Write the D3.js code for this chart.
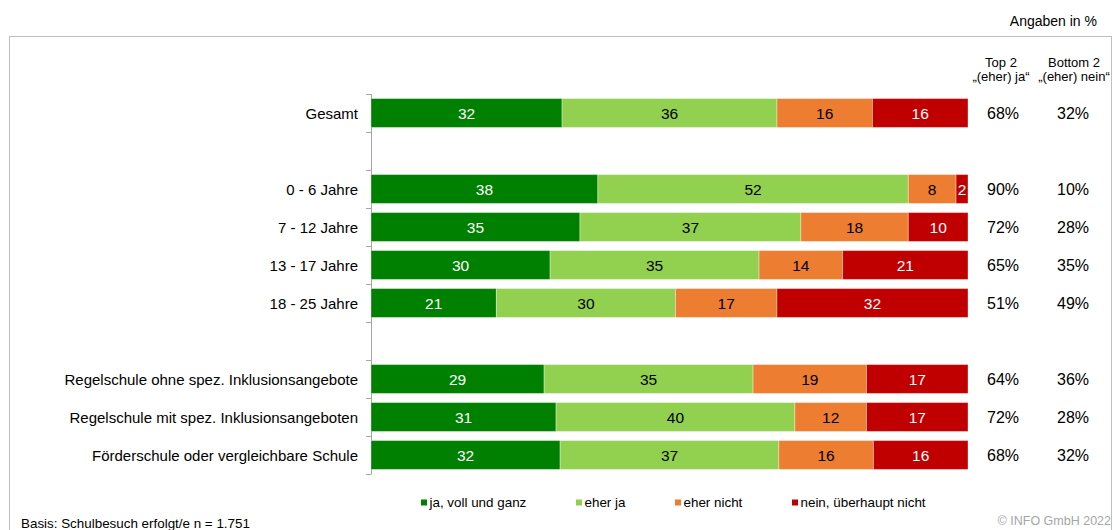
<!DOCTYPE html>
<html>
<head>
<meta charset="utf-8">
<title>Schulbesuch</title>
<script src="https://cdn.jsdelivr.net/npm/d3@7"></script>
<style>
    body{
        margin:0;
        font-family:"Liberation Sans", Arial, helvetica, sans-serif;
        background:#fff;
    }
</style>
</head>
<body>
<div id="chart"></div>
<script>
    // rows of the chart, "" = empty spacer row
    var categories = ["Gesamt", "", "0 - 6 Jahre", "7 - 12 Jahre", "13 - 17 Jahre", "18 - 25 Jahre", "",
        "Regelschule ohne spez. Inklusionsangebote", "Regelschule mit spez. Inklusionsangeboten",
        "Förderschule oder vergleichbare Schule"]
    var jaVoll   = [32, null, 38, 35, 30, 21, null, 29, 31, 32]
    var eherJa   = [36, null, 52, 37, 35, 30, null, 35, 40, 37]
    var eherNicht= [16, null,  8, 18, 14, 17, null, 19, 12, 16]
    var nein     = [16, null,  2, 10, 21, 32, null, 17, 17, 16]
    var top2     = ["68%", "", "90%", "72%", "65%", "51%", "", "64%", "72%", "68%"]
    var bottom2  = ["32%", "", "10%", "28%", "35%", "49%", "", "36%", "28%", "32%"]
    var seriesNames = ["ja, voll und ganz", "eher ja", "eher nicht", "nein, überhaupt nicht"]
    var seriesColors = ["#008000", "#92d050", "#ed7d31", "#c00000"]
    var labelColors = ["#fff", "#000", "#000", "#fff"]

    var w = 1113
    var h = 530

    var svg = d3.select("#chart").append("svg")
        .attr("width", w)
        .attr("height", h)

    // frame
    svg.append("rect")
        .attr("x", 9.5).attr("y", 36.5)
        .attr("width", 1102).attr("height", 520)
        .attr("fill", "none")
        .attr("stroke", "#bfbfbf")

    svg.append("text").text("Angaben in %")
        .attr("x", 1097).attr("y", 26)
        .attr("text-anchor", "end")
        .style("font-size", "14px")

    var keys = categories.map(function(d, i){ return "r" + i })
    var yScale = d3.scaleBand().domain(keys).range([94, 474])
        .paddingInner(0.24).paddingOuter(0.12)
    var xScale = d3.scaleLinear().domain([0, 1]).range([371, 968])

    var rows = categories.map(function(c, i){
        return {key: keys[i], label: c, vals: [jaVoll[i], eherJa[i], eherNicht[i], nein[i]],
            top: top2[i], bottom: bottom2[i]}
    })

    // category axis with ticks on row boundaries
    var axis = svg.append("g").attr("class", "axis")
    axis.append("line")
        .attr("x1", 371.5).attr("x2", 371.5)
        .attr("y1", 94).attr("y2", 474)
        .attr("stroke", "#a6a6a6")
    axis.selectAll(".tick")
        .data(d3.range(categories.length + 1))
        .enter().append("line")
        .attr("x1", 366).attr("x2", 371.5)
        .attr("y1", function(i){ return Math.round(94 + i * yScale.step()) + 0.5 })
        .attr("y2", function(i){ return Math.round(94 + i * yScale.step()) + 0.5 })
        .attr("stroke", "#a6a6a6")

    var filled = rows.filter(function(d){ return d.label !== "" })

    svg.selectAll(".cat")
        .data(filled).enter().append("text")
        .attr("class", "cat")
        .attr("x", 358)
        .attr("y", function(d){ return yScale(d.key) + yScale.bandwidth() / 2 + 5.5 })
        .attr("text-anchor", "end")
        .style("font-size", "15px")
        .text(function(d){ return d.label })

    filled.forEach(function(d){
        var total = d3.sum(d.vals)
        var acc = 0
        var g = svg.append("g")
        d.vals.forEach(function(v, j){
            var x0 = xScale(acc / total)
            acc += v
            var x1 = xScale(acc / total)
            g.append("rect")
                .attr("x", x0).attr("y", yScale(d.key))
                .attr("width", x1 - x0).attr("height", yScale.bandwidth())
                .attr("fill", seriesColors[j])
                .attr("stroke", "rgba(255,255,255,0.35)")
                .attr("stroke-width", 1)
            g.append("text")
                .attr("x", (x0 + x1) / 2)
                .attr("y", yScale(d.key) + yScale.bandwidth() / 2 + 5.5)
                .attr("text-anchor", "middle")
                .attr("fill", labelColors[j])
                .style("font-size", "15.5px")
                .text(v)
        })
    })

    // top2 / bottom2 columns
    svg.selectAll(".top2")
        .data(filled).enter().append("text")
        .attr("x", 1003)
        .attr("y", function(d){ return yScale(d.key) + yScale.bandwidth() / 2 + 6 })
        .attr("text-anchor", "middle")
        .style("font-size", "16px")
        .text(function(d){ return d.top })
    svg.selectAll(".bottom2")
        .data(filled).enter().append("text")
        .attr("x", 1073)
        .attr("y", function(d){ return yScale(d.key) + yScale.bandwidth() / 2 + 6 })
        .attr("text-anchor", "middle")
        .style("font-size", "16px")
        .text(function(d){ return d.bottom })

    var heads = [["Top 2", "„(eher) ja“", 1001], ["Bottom 2", "„(eher) nein“", 1074]]
    heads.forEach(function(hd){
        svg.append("text").text(hd[0]).attr("x", hd[2]).attr("y", 67)
            .attr("text-anchor", "middle").style("font-size", "13px")
        svg.append("text").text(hd[1]).attr("x", hd[2]).attr("y", 81)
            .attr("text-anchor", "middle").style("font-size", "13px")
    })

    // legend
    var legX = [421, 576, 675, 792]
    seriesNames.forEach(function(n, i){
        svg.append("rect").attr("x", legX[i]).attr("y", 499.5)
            .attr("width", 6).attr("height", 6)
            .attr("fill", seriesColors[i])
        svg.append("text").text(n).attr("x", legX[i] + 8.5).attr("y", 507)
            .style("font-size", "13.4px")
    })

    svg.append("text").text("Basis: Schulbesuch erfolgt/e n = 1.751")
        .attr("x", 21).attr("y", 528)
        .style("font-size", "13.4px")
    svg.append("text").text("© INFO GmbH 2022")
        .attr("x", 1111).attr("y", 525)
        .attr("text-anchor", "end")
        .attr("fill", "#a6a6a6")
        .style("font-size", "12.5px")
</script>
</body>
</html>
